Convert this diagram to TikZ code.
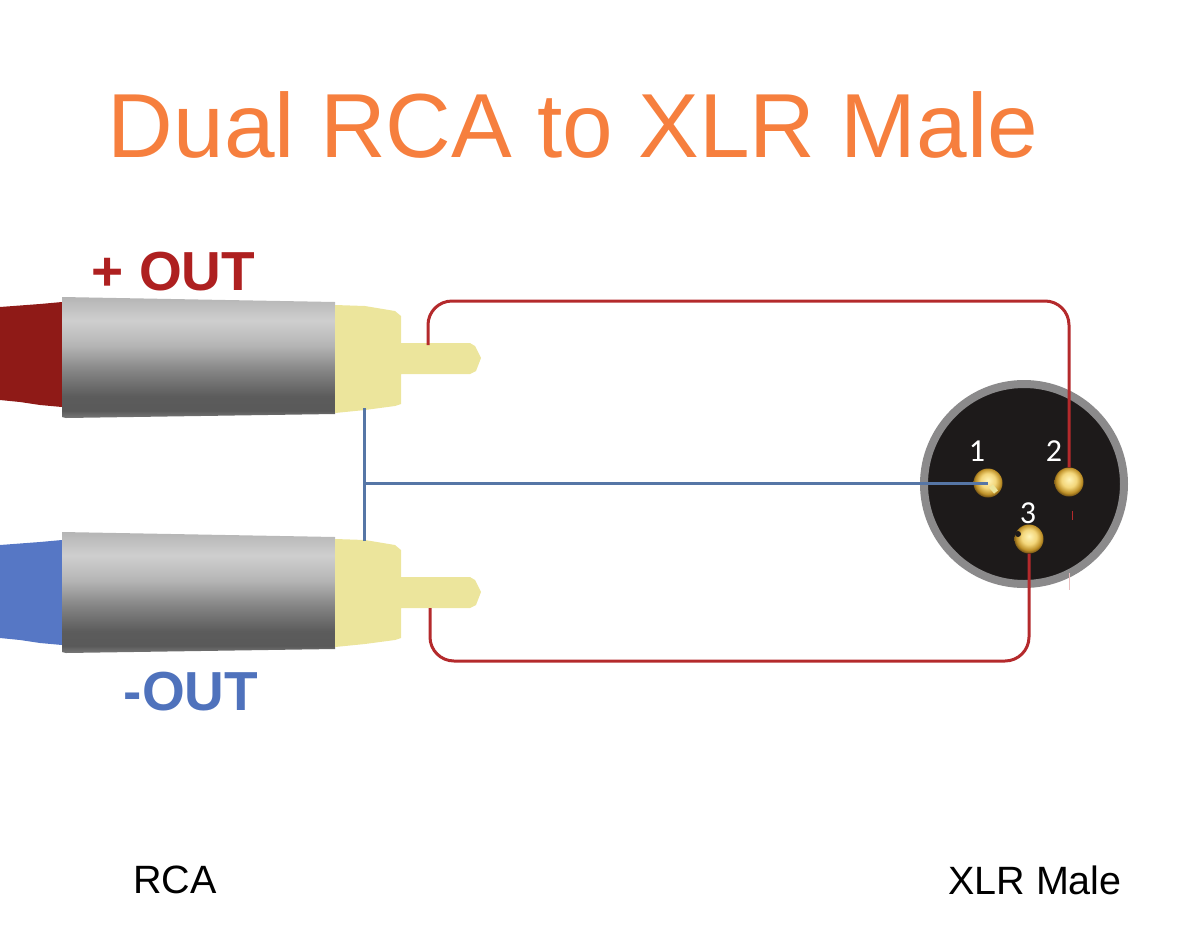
\documentclass[tikz,border=0pt]{standalone}
\usepackage{fontspec}
\setmainfont{Liberation Sans}
\newfontfamily\pinfont{Carlito}
\usepackage{tikz}

\definecolor{TitleOrange}{HTML}{F67F3E}
\definecolor{WireRed}{HTML}{B42A2C}
\definecolor{WireBlue}{HTML}{5676A6}
\definecolor{LabelRed}{HTML}{AE2020}
\definecolor{LabelBlue}{HTML}{4F72BC}
\definecolor{CableRed}{HTML}{8F1A17}
\definecolor{CableBlue}{HTML}{5677C5}
\definecolor{PlugYellow}{HTML}{ECE59C}
\definecolor{RimGray}{HTML}{8B8A8B}
\definecolor{FaceBlack}{HTML}{1D1A1A}
\definecolor{PinLight}{HTML}{FFF4B8}
\definecolor{PinMid}{HTML}{F3D67A}
\definecolor{PinEdge}{HTML}{BE9028}
\definecolor{PinDark}{HTML}{5E4210}

\pgfdeclareverticalshading{shellshade}{100bp}{
	color(0bp)=(black!53); color(25bp)=(black!53); color(28bp)=(black!65); color(34bp)=(black!64);
	color(44.6bp)=(black!48); color(55bp)=(black!29); color(65.4bp)=(black!19); color(75bp)=(black!29); color(100bp)=(black!29)}
\pgfdeclareradialshading{pinshade}{\pgfpoint{0bp}{5bp}}{
	color(0bp)=(PinLight); color(13bp)=(PinMid); color(22bp)=(PinEdge); color(28bp)=(PinDark); color(50bp)=(PinDark)}

\tikzset{
	redwire/.style={draw=WireRed, line width=3pt, rounded corners=24pt},
	bluewire/.style={draw=WireBlue, line width=3pt},
	pinball/.style={circle, minimum size=29pt, inner sep=0pt, shading=pinshade},
	pinnum/.style={text=white, inner sep=0pt, font=\pinfont\fontsize{32}{33}\selectfont},
	caption/.style={inner sep=0pt, font=\fontsize{39.5}{41}\selectfont},
	outlabel/.style={inner sep=0pt, font=\bfseries\fontsize{55}{57}\selectfont}
}

\begin{document}
\begin{tikzpicture}[x=1pt, y=-1pt]
	\useasboundingbox (0,0) rectangle (1195,943);

	\node[inner sep=0pt, text=TitleOrange, font=\fontsize{91}{95}\selectfont] (title) at (573,124.5) {Dual RCA to XLR Male};
	\node[outlabel, text=LabelRed] (pluslabel) at (173.5,272) {+ OUT};
	\node[outlabel, text=LabelBlue] (minuslabel) at (191,692) {-OUT};
	\node[caption] (rcalabel) at (175,880) {RCA};
	\node[caption] (xlrlabel) at (1035,880) {XLR Male};

	% top plug
	\fill[CableRed] (0,307) -- (40,304) -- (62,302) -- (62,407) -- (40,405) -- (20,402) -- (0,400) -- cycle;
	\shade[shading=shellshade] (62,297) -- (335,302) -- (335,414) -- (66,418) -- (62,417) -- cycle;
	\fill[PlugYellow] (335,305) -- (365,306) -- (395,311) -- (401,316) -- (401,343) -- (470,343) -- (475,346) -- (481,358) -- (476,371) -- (470,374) -- (401,374) -- (401,404) -- (395,406) -- (365,410) -- (335,413) -- cycle;

	% bottom plug
	\fill[CableBlue] (0,545) -- (40,542) -- (62,540) -- (62,645) -- (40,643) -- (20,640) -- (0,638) -- cycle;
	\shade[shading=shellshade] (62,532) -- (335,537) -- (335,649) -- (66,653) -- (62,652) -- cycle;
	\fill[PlugYellow] (335,539) -- (365,540) -- (395,545) -- (401,550) -- (401,577) -- (470,577) -- (475,580) -- (481,592) -- (476,605) -- (470,608) -- (401,608) -- (401,638) -- (395,640) -- (365,644) -- (335,647) -- cycle;

	% xlr face
	\node[draw=RimGray, line width=8pt, fill=FaceBlack, circle, minimum size=200pt, inner sep=0pt] (xlrface) at (1024,484) {};
	\node[pinball] (pinone) at (988,483) {};
	\node[pinball] (pintwo) at (1069,482) {};
	\node[pinball] (pinthree) at (1029,539) {};
	\node[pinnum] (numone) at (977,451) {1};
	\node[pinnum] (numtwo) at (1054,451) {2};
	\node[pinnum] (numthree) at (1028,513) {3};
	\fill[FaceBlack] (1018,534) circle (3pt);

	\coordinate (plustip) at (428,345);
	\coordinate (plusbend) at (1069,301);
	\coordinate (minustip) at (430,608);
	\coordinate (minusbend) at (1029,661);
	\coordinate (plusshell) at (364,408);
	\coordinate (minusshell) at (364,541);
	\coordinate (groundjoint) at (364,483);

	\draw[redwire] (plustip) |- (plusbend) -- (pintwo.north);
	\draw[redwire] (minustip) |- (minusbend) -- (pinthree.south);
	\draw[bluewire] (plusshell) -- (minusshell);
	\draw[bluewire] (groundjoint) -- (pinone.center);

	\draw[PlugYellow, line width=5pt] (991,486) -- (996,492);
	\draw[WireRed, line width=1pt] (1072,511) -- (1072,520);
	\draw[WireRed!30, line width=0.7pt] (1069,573) -- (1069,590);
\end{tikzpicture}
\end{document}
